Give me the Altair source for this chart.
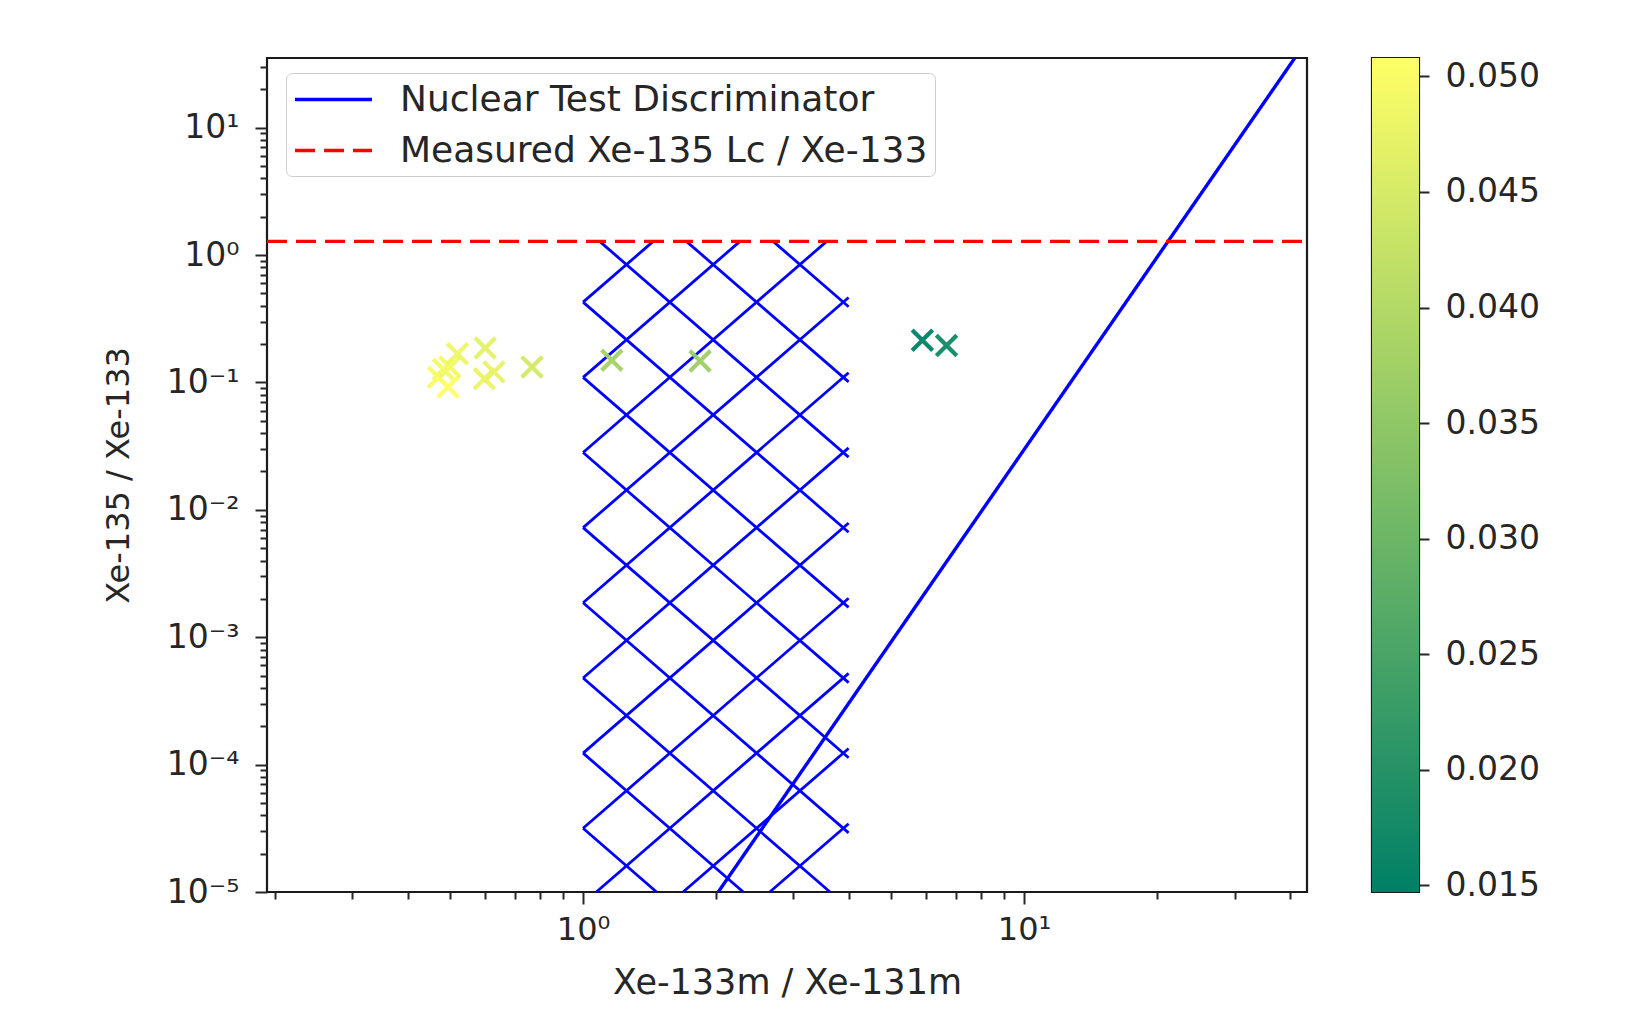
import altair as alt
import numpy as np
import pandas as pd

# ---------------- data ----------------
pts_x = [0.470, 0.482, 0.494, 0.499, 0.519, 0.597, 0.600, 0.628, 0.766, 1.162, 1.842, 5.88, 6.67]
pts_y = [0.110, 0.127, 0.092, 0.132, 0.168, 0.107, 0.186, 0.121, 0.132, 0.149, 0.147, 0.214, 0.195]
pts_c = [0.0500, 0.0495, 0.0508, 0.0490, 0.0485, 0.0480, 0.0470, 0.0475, 0.0445, 0.0380, 0.0370, 0.0147, 0.0170]

series_names = ["Nuclear Test Discriminator", "Measured Xe-135 Lc / Xe-133"]
disc_x = [2.025, 41.1]
disc_y = [1e-5, 35.2]
measured_level = 1.28

hatch_x = [1.0, 4.0]                 # hatched band (x range)
hatch_y = [1e-5, measured_level]     # hatched band (y range)

x_domain = [0.192, 43.8]
y_domain = [1e-5, 35.2]
c_domain = [0.0147, 0.0508]

x_major = [1, 10]
x_major_exp = [0, 1]
y_major = [1e-5, 1e-4, 1e-3, 1e-2, 1e-1, 1, 10]
y_major_exp = [-5, -4, -3, -2, -1, 0, 1]
x_minor = [0.2, 0.3, 0.4, 0.5, 0.6, 0.7, 0.8, 0.9, 2, 3, 4, 5, 6, 7, 8, 9, 20, 30, 40]
y_minor = [k * 10.0 ** n for n in range(-5, 2) for k in range(2, 10) if k * 10.0 ** n < 35.2]
cb_ticks = [0.015, 0.020, 0.025, 0.030, 0.035, 0.040, 0.045, 0.050]

SUP = {"-": "⁻", "0": "⁰", "1": "¹", "2": "²", "3": "³", "4": "⁴", "5": "⁵"}


def sup_label(e):
    return "10" + "".join(SUP[ch] for ch in str(e))


def label_expr(exps):
    expr = "''"
    for e in exps:
        expr = f"round(log(datum.value)/LN10) == {e} ? '{sup_label(e)}' : ({expr})"
    return expr


# ---------------- hatch pattern ('x' hatch) built in log space ----------------
slope, spacing = 3.0, 0.59
lx0, lx1 = np.log10(hatch_x)
ly0, ly1 = np.log10(hatch_y)
segs = []
for s, c0 in [(slope, -0.37), (-slope, 0.22)]:
    for k in range(-20, 20):
        c = c0 + k * spacing
        a = (ly0 - c) / s
        b = (ly1 - c) / s
        lo, hi = max(min(a, b), lx0), min(max(a, b), lx1)
        if hi - lo > 1e-6:
            segs.append({"x": 10 ** lo, "y": 10 ** (s * lo + c),
                         "x2": 10 ** hi, "y2": 10 ** (s * hi + c)})
hatch_df = pd.DataFrame(segs)

lines_df = pd.DataFrame({
    "x": disc_x + x_domain,
    "y": disc_y + [measured_level, measured_level],
    "series": [series_names[0]] * 2 + [series_names[1]] * 2,
})
pts_df = pd.DataFrame({"x": pts_x, "y": pts_y, "c": pts_c})

TXT = "#262626"
xs = alt.Scale(type="log", domain=x_domain, nice=False)
ys = alt.Scale(type="log", domain=y_domain, nice=False)

minor_x_axis = alt.Axis(orient="bottom", values=x_minor, labels=False, tickSize=7, tickWidth=2,
                        domain=False, grid=False, title=None, tickColor=TXT)
minor_y_axis = alt.Axis(orient="left", values=y_minor, labels=False, tickSize=7, tickWidth=2,
                        domain=False, grid=False, title=None, tickColor=TXT)

hatch = alt.Chart(hatch_df).mark_rule(color="#0000ff", strokeWidth=2.8).encode(
    x=alt.X("x:Q", scale=xs, axis=minor_x_axis),
    y=alt.Y("y:Q", scale=ys, axis=minor_y_axis),
    x2="x2:Q",
    y2="y2:Q",
)

leg = alt.Legend(title=None, orient="none", legendX=19, legendY=15,
                 symbolType="M-2.2,0L2.2,0", symbolSize=1225, symbolOffset=21,
                 symbolStrokeWidth=3.5, labelFontSize=36, labelColor=TXT,
                 labelOffset=47, rowPadding=13, padding=7,
                 fillColor="rgba(255,255,255,0.85)", strokeColor="#cccccc", cornerRadius=6,
                 labelLimit=1000,
                 labelExpr="datum.label + '\u00a0\u00a0\u00a0\u00a0\u00a0\u00a0'")

lines = alt.Chart(lines_df).mark_line(strokeWidth=3.4, clip=True).encode(
    x=alt.X("x:Q", scale=xs, axis=None),
    y=alt.Y("y:Q", scale=ys, axis=None),
    stroke=alt.Stroke("series:N", scale=alt.Scale(domain=series_names, range=["#0000ff", "#ff0000"]),
                      legend=leg, sort=series_names),
    strokeDash=alt.StrokeDash("series:N", scale=alt.Scale(domain=series_names, range=[[1, 0], [20, 9]]),
                              legend=leg, sort=series_names),
)

major_x_axis = alt.Axis(orient="bottom", values=x_major, labelExpr=label_expr(x_major_exp),
                        tickSize=12, tickWidth=2, domain=False, grid=False, tickColor=TXT,
                        title="Xe-133m / Xe-131m", labelFontSize=32, titleFontSize=35,
                        labelPadding=10, titlePadding=20, labelColor=TXT, titleColor=TXT,
                        titleFontWeight="normal")
major_y_axis = alt.Axis(orient="left", values=y_major, labelExpr=label_expr(y_major_exp),
                        tickSize=12, tickWidth=2, domain=False, grid=False, tickColor=TXT,
                        title="Xe-135 / Xe-133", labelFontSize=33, titleFontSize=32,
                        labelPadding=16, titlePadding=31, labelColor=TXT, titleColor=TXT,
                        titleFontWeight="normal")

scatter = alt.Chart(pts_df).mark_point(shape="M-1,-1L1,1M-1,1L1,-1", filled=False, size=420,
                                       strokeWidth=4.2, opacity=0.95).encode(
    x=alt.X("x:Q", scale=xs, axis=major_x_axis),
    y=alt.Y("y:Q", scale=ys, axis=major_y_axis),
    color=alt.Color("c:Q", scale=alt.Scale(domain=c_domain, range=["#008066", "#ffff66"],
                                           interpolate="rgb"), legend=None),
)

main = alt.layer(hatch, lines, scatter).resolve_axis(x="independent", y="independent").properties(
    width=1040, height=834)

cb_df = pd.DataFrame({"lo": [c_domain[0]], "hi": [c_domain[1]]})
colorbar = alt.Chart(cb_df).mark_rect(
    fill=alt.LinearGradient(gradient="linear",
                            stops=[alt.GradientStop(color="#008066", offset=0),
                                   alt.GradientStop(color="#ffff66", offset=1)],
                            x1=0, x2=0, y1=1, y2=0)
).encode(
    y=alt.Y("lo:Q", scale=alt.Scale(domain=c_domain, nice=False, zero=False),
            axis=alt.Axis(orient="right", values=cb_ticks, format=".3f", tickSize=10, tickWidth=2,
                          domain=False, grid=False, labelFontSize=33, labelPadding=16,
                          labelColor=TXT, tickColor=TXT, title=None)),
    y2="hi:Q",
).properties(width=47, height=834)

chart = alt.hconcat(main, colorbar, spacing=61).configure(
    font="DejaVu Sans",
    padding={"left": 93, "top": 48, "right": 5, "bottom": 5},
).configure_view(stroke="#1a1a1a", strokeWidth=2.2)

chart.save("out.html", embed_options={"renderer": "svg", "actions": False})
